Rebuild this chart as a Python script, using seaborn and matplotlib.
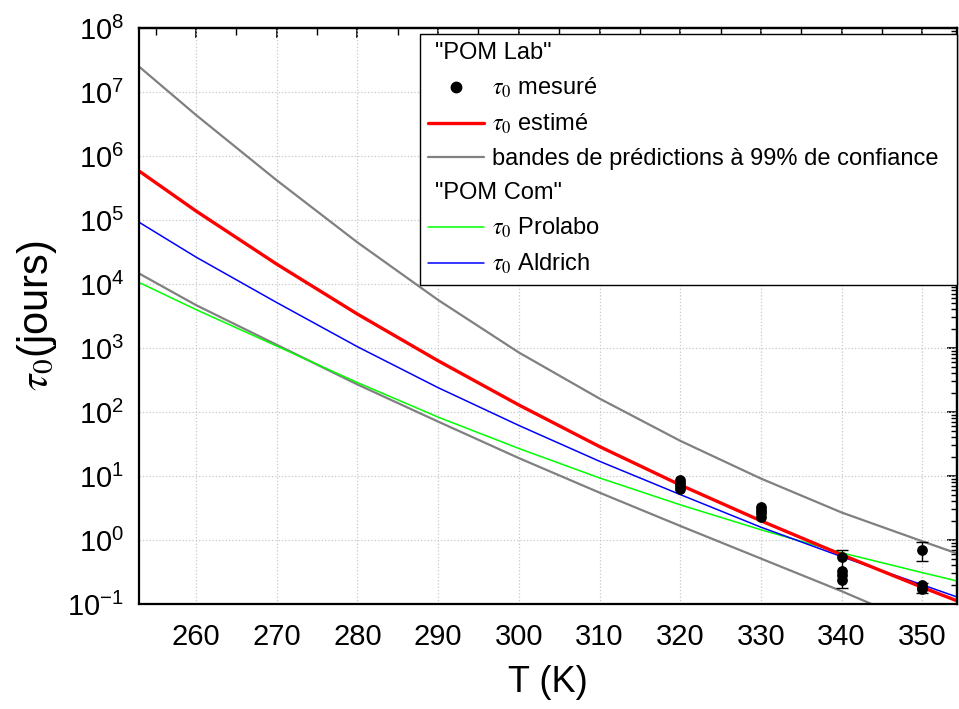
import matplotlib
matplotlib.use('Agg')
import matplotlib.pyplot as plt
import matplotlib.ticker as mticker
from matplotlib import font_manager
from matplotlib.lines import Line2D
import numpy as np
import pandas as pd
import seaborn as sns

# ---- data (tau0 in days, log10 values for the curves) ----
T_curve = [253.0, 260, 270, 280, 290, 300, 310, 320, 330, 340, 350, 354.3]
log_band_upper = [7.39, 6.64, 5.62, 4.65, 3.75, 2.93, 2.21, 1.55, 0.96, 0.43, -0.02, -0.21]
log_estime = [5.76, 5.14, 4.31, 3.53, 2.80, 2.11, 1.46, 0.86, 0.30, -0.23, -0.74, -0.95]
log_aldrich = [4.96, 4.42, 3.71, 3.02, 2.38, 1.79, 1.23, 0.71, 0.20, -0.26, -0.70, -0.89]
log_prolabo = [4.02, 3.60, 3.03, 2.46, 1.92, 1.43, 0.97, 0.55, 0.16, -0.20, -0.51, -0.64]

T_lower = [253.0, 260, 270, 280, 290, 300, 310, 320, 330, 340, 345]
log_band_lower = [4.16, 3.67, 3.05, 2.43, 1.85, 1.28, 0.74, 0.22, -0.29, -0.80, -1.07]

T_mesure = [320, 320, 320, 320, 330, 330, 330, 330, 340, 340, 340, 340, 350, 350, 350, 350]
tau_mesure = [8.7, 7.8, 7.0, 6.2, 3.3, 2.9, 2.6, 2.3, 0.55, 0.33, 0.28, 0.24, 0.70, 0.20, 0.18, 0.17]

T_err = [340, 350, 350]
tau_err = [0.55, 0.70, 0.18]
err_low = [0.37, 0.23, 0.03]
err_high = [0.15, 0.23, 0.03]

x_ticks = [260, 270, 280, 290, 300, 310, 320, 330, 340, 350]

# ---- style ----
sns.set_theme(style='white')
installed = {f.name for f in font_manager.fontManager.ttflist}
narrow = 'Liberation Sans Narrow' if 'Liberation Sans Narrow' in installed else 'Liberation Sans'
plt.rcParams['font.family'] = ['Liberation Sans', 'DejaVu Sans']
plt.rcParams['mathtext.fontset'] = 'stix'
plt.rcParams['axes.linewidth'] = 1.6
for key in ('text.color', 'axes.labelcolor', 'xtick.color', 'ytick.color', 'axes.edgecolor'):
    plt.rcParams[key] = 'black'

fig = plt.figure(figsize=(9.59, 7.09), dpi=100)
ax = fig.add_axes([0.1453, 0.1481, 0.8526, 0.8124])

curves = pd.DataFrame({
    'T': T_curve,
    'upper': np.power(10.0, log_band_upper),
    'estime': np.power(10.0, log_estime),
    'aldrich': np.power(10.0, log_aldrich),
    'prolabo': np.power(10.0, log_prolabo),
})
lower = pd.DataFrame({'T': T_lower, 'lower': np.power(10.0, log_band_lower)})

sns.lineplot(data=curves, x='T', y='upper', color='#808080', linewidth=1.6, estimator=None, ax=ax)
sns.lineplot(data=lower, x='T', y='lower', color='#808080', linewidth=1.6, estimator=None, ax=ax)
sns.lineplot(data=curves, x='T', y='prolabo', color='#00FF00', linewidth=1.1, estimator=None, ax=ax)
sns.lineplot(data=curves, x='T', y='aldrich', color='#0000FF', linewidth=1.1, estimator=None, ax=ax)
sns.lineplot(data=curves, x='T', y='estime', color='#FF0000', linewidth=2.4, estimator=None, ax=ax)

ax.errorbar(T_err, tau_err, yerr=[err_low, err_high], fmt='none', ecolor='black',
            elinewidth=1.0, capsize=4, capthick=1.0, zorder=4)
sns.scatterplot(x=T_mesure, y=tau_mesure, color='black', s=60, edgecolor='black',
                linewidth=0, zorder=5, ax=ax)

ax.set_yscale('log')
ax.set_xlim(252.97, 354.3)
ax.set_ylim(1e-1, 1e8)

ax.set_xticks(x_ticks)
ax.xaxis.set_minor_locator(mticker.MultipleLocator(5))
ax.yaxis.set_major_locator(mticker.LogLocator(base=10, numticks=20))
ax.yaxis.set_minor_locator(mticker.LogLocator(base=10, subs=np.arange(2, 10), numticks=20))
ax.yaxis.set_minor_formatter(mticker.NullFormatter())

ax.grid(True, which='major', color='#c8c8c8', linestyle=':', linewidth=0.9)

ax.tick_params(axis='x', which='major', direction='out', length=8, width=1.4, pad=6,
               labelsize=21)
ax.tick_params(axis='x', which='minor', direction='out', length=5, width=1.2)
ax.tick_params(axis='y', which='major', direction='out', length=8, width=1.4, pad=3,
               labelsize=21)
ax.tick_params(axis='y', which='minor', direction='out', length=4, width=1.0)
for lab in ax.get_xticklabels():
    lab.set_family(narrow)

# mirrored ticks pointing inward on top and right
top = ax.secondary_xaxis('top')
top.set_xticks(x_ticks)
top.xaxis.set_minor_locator(mticker.MultipleLocator(5))
top.tick_params(which='major', direction='in', length=7, width=1.2, labeltop=False)
top.tick_params(which='minor', direction='in', length=5, width=1.0)
right = ax.secondary_yaxis('right')
right.yaxis.set_major_locator(mticker.LogLocator(base=10, numticks=20))
right.yaxis.set_minor_locator(mticker.LogLocator(base=10, subs=np.arange(2, 10), numticks=20))
right.tick_params(which='major', direction='in', length=7, width=1.2, labelright=False)
right.tick_params(which='minor', direction='in', length=4, width=1.0, labelright=False)

ax.set_xlabel('T (K)', fontsize=26, family=narrow, labelpad=10)
ax.set_ylabel(r'$\tau_0$(jours)', fontsize=30, labelpad=6)

# ---- legend ----
blank = Line2D([], [], linestyle='none')
handles = [
    blank,
    Line2D([], [], color='black', marker='o', markersize=7.5, linestyle='none'),
    Line2D([], [], color='#FF0000', linewidth=2.4),
    Line2D([], [], color='#808080', linewidth=1.6),
    blank,
    Line2D([], [], color='#00FF00', linewidth=1.1),
    Line2D([], [], color='#0000FF', linewidth=1.1),
]
labels = [
    '"POM Lab"',
    r'$\tau_0$ mesuré',
    r'$\tau_0$ estimé',
    'bandes de prédictions à 99% de confiance',
    '"POM Com"',
    r'$\tau_0$ Prolabo',
    r'$\tau_0$ Aldrich',
]
leg = ax.legend(handles, labels, loc='upper left', bbox_to_anchor=(0.3427, 0.5573, 0.6573, 0.4323),
                mode='expand', borderaxespad=0, fancybox=False, framealpha=1,
                edgecolor='black', handlelength=2.4, handletextpad=0.3, labelspacing=0.5,
                borderpad=0.35, prop={'family': narrow, 'size': 17})
leg.get_frame().set_linewidth(1.0)
rows = leg._legend_handle_box.get_children()[0].get_children()
for i in (0, 4):
    rows[i].get_children()[0].set_width(0)

fig.savefig('out.png', dpi=100)
